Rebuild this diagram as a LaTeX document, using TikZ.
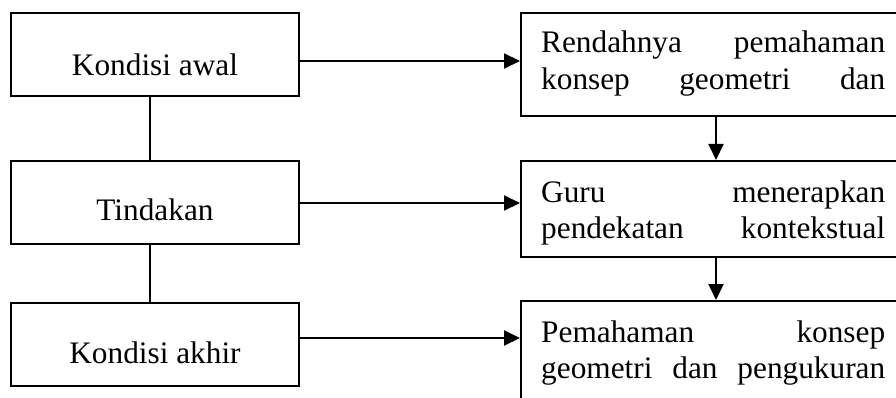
\documentclass[tikz,border=0pt]{standalone}
\usepackage{fontspec}
\setmainfont{Liberation Serif}
\usetikzlibrary{arrows.meta}
\begin{document}
\begin{tikzpicture}[x=1pt,y=-1pt,
  every node/.style={font=\fontsize{31.3}{36}\selectfont},
  leftbox/.style={draw, line width=1.2pt, rectangle, minimum width=288pt, minimum height=83pt, inner sep=0pt},
  rightbox/.style={draw, line width=2pt, rectangle, minimum width=384pt, inner sep=0pt},
  txt/.style={anchor=base west, inner sep=0pt},
  lbl/.style={anchor=base, inner sep=0pt},
  link/.style={line width=1.2pt},
  arr/.style={line width=2pt, -{Triangle[length=16pt,width=15pt]}}
]
\fill[white] (0,0) rectangle (896,398);
\clip (0,0) rectangle (896,398);

% left column: stages
\node[leftbox] (L1) at (155,54.5) {};
\node[leftbox] (L2) at (155,202.5) {};
\node[leftbox] (L3) at (155,344.5) {};
\node[lbl] (t1) at (155,76) {Kondisi awal};
\node[lbl] (t2) at (155,220) {Tindakan};
\node[lbl] (t3) at (155,363) {Kondisi akhir};

% right column: descriptions
\node[rightbox, minimum height=103pt] (R1) at (713,64.5) {};
\node[rightbox, minimum height=96pt] (R2) at (713,209) {};
\node[rightbox, minimum height=120pt] (R3) at (713,361) {};

\node[txt] (r1a) at (541,53) {\hbox to 344pt{Rendahnya\hfill pemahaman}};
\node[txt] (r1b) at (541,90) {\hbox to 344pt{konsep\hfill geometri\hfill dan}};
\node[txt] (r2a) at (541,202) {\hbox to 344pt{Guru\hfill menerapkan}};
\node[txt] (r2b) at (541,238) {\hbox to 344pt{pendekatan\hfill kontekstual}};
\node[txt] (r3a) at (541,342) {\hbox to 344pt{Pemahaman\hfill konsep}};
\node[txt] (r3b) at (541,378) {\hbox to 344pt{geometri\hfill dan\hfill pengukuran}};

% links between stages
\draw[link] ([xshift=-5pt]L1.south) -- ([xshift=-5pt]L2.north);
\draw[link] ([xshift=-5pt]L2.south) -- ([xshift=-5pt]L3.north);

% arrows from stages to descriptions
\draw[arr] (L1.east |- 0,61) -- (R1.west |- 0,61);
\draw[arr] (L2.east |- 0,203) -- (R2.west |- 0,203);
\draw[arr] (L3.east |- 0,338) -- (R3.west |- 0,338);

% arrows down the description column
\draw[arr] ([xshift=3pt]R1.south) -- ([xshift=3pt]R2.north);
\draw[arr] ([xshift=3pt]R2.south) -- ([xshift=3pt]R3.north);
\end{tikzpicture}
\end{document}
